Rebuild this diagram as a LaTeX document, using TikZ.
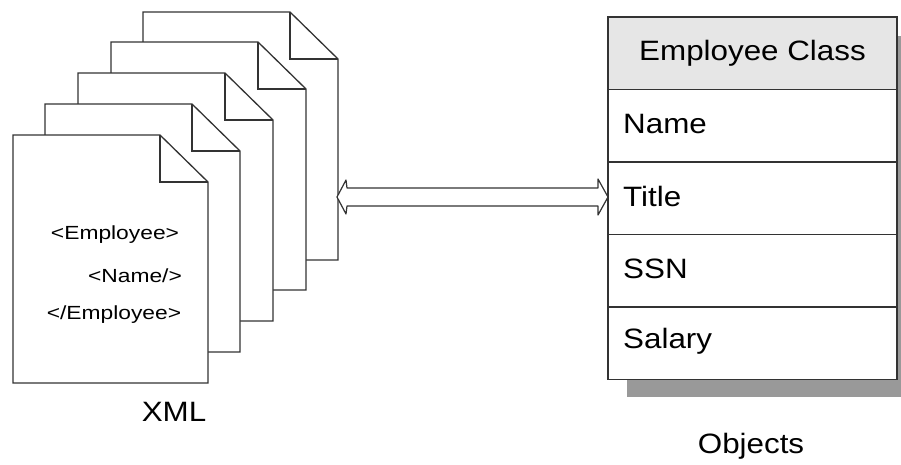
\documentclass[tikz,border=0pt]{standalone}
\usepackage{fontspec}
\usetikzlibrary{calc}
\setmainfont{Liberation Sans}
\newfontfamily\clsfont[FakeStretch=1.12]{Liberation Sans}
\newfontfamily\docfont[FakeStretch=1.2]{Liberation Sans}
\definecolor{linegray}{HTML}{333333}
\definecolor{headgray}{HTML}{E6E6E6}
\definecolor{shadowgray}{HTML}{999999}
\begin{document}
\begin{tikzpicture}[x=1pt,y=-1pt,
  docline/.style={draw=linegray,line width=1.3pt,fill=white,line join=miter},
  docpage/.pic={
    \path[docline] (0,0) -- (147,0) -- (195,47) -- (195,248) -- (0,248) -- cycle;
    \draw[docline,fill=none] (147,0) -- (147,47) -- (195,47);
  },
  row/.style={draw=linegray,line width=1.2pt,minimum width=289pt,minimum height=72.5pt,
    inner sep=0pt,outer sep=0pt,anchor=north west},
  rowtext/.style={anchor=west,inner sep=0pt,font=\clsfont\fontsize{28}{30}\selectfont},
  doctext/.style={inner sep=0pt,font=\docfont\fontsize{19}{21}\selectfont},
  label/.style={inner sep=0pt,font=\clsfont\fontsize{28}{30}\selectfont}
]
\useasboundingbox (0,0) rectangle (901,464);
% document stack, back to front
\pic at (143,12) {docpage};
\pic at (111,42) {docpage};
\pic at (78,73) {docpage};
\pic at (45,104) {docpage};
\pic at (13,135) {docpage};
\node[doctext] (t1) at (115,235) {<Employee>};
\node[doctext] (t2) at (135,276) {<Name/>};
\node[doctext] (t3) at (114,315) {</Employee>};
\node[label] (xml) at (174,412) {XML};
% class box shadow
\begin{scope}
  \clip (0,0) rectangle (901,464);
  \fill[shadowgray] (627,36) rectangle (916,397);
\end{scope}
% class box
\node[row,fill=headgray] (hdr) at (608,17) {};
\node[row,fill=white,anchor=north west] (name) at (hdr.south west) {};
\node[row,fill=white,anchor=north west] (title) at (name.south west) {};
\node[row,fill=white,anchor=north west] (ssn) at (title.south west) {};
\node[row,fill=white,anchor=north west] (salary) at (ssn.south west) {};
\node[label] at (hdr.center) {Employee Class};
\node[rowtext] at ([xshift=15pt,yshift=2pt]name.west) {Name};
\node[rowtext] at ([xshift=15pt,yshift=2pt]title.west) {Title};
\node[rowtext] at ([xshift=15pt,yshift=2pt]ssn.west) {SSN};
\node[rowtext] at ([xshift=15pt,yshift=2pt]salary.west) {Salary};
\node[label] (obj) at (751,446) {Objects};
% double arrow
\coordinate (aL) at (337,197);
\coordinate (aR) at (title.west |- aL);
\draw[draw=linegray,line width=1.2pt,fill=white,line join=round]
  (aL) -- ++(9,-17) -- ++(1,8) -- ($(aR)+(-10,-9)$) -- ++(0,-9) -- (aR)
  -- ++(-10,18) -- ++(0,-9) -- ($(aL)+(10,9)$) -- ++(-1,8) -- cycle;
\end{tikzpicture}
\end{document}
